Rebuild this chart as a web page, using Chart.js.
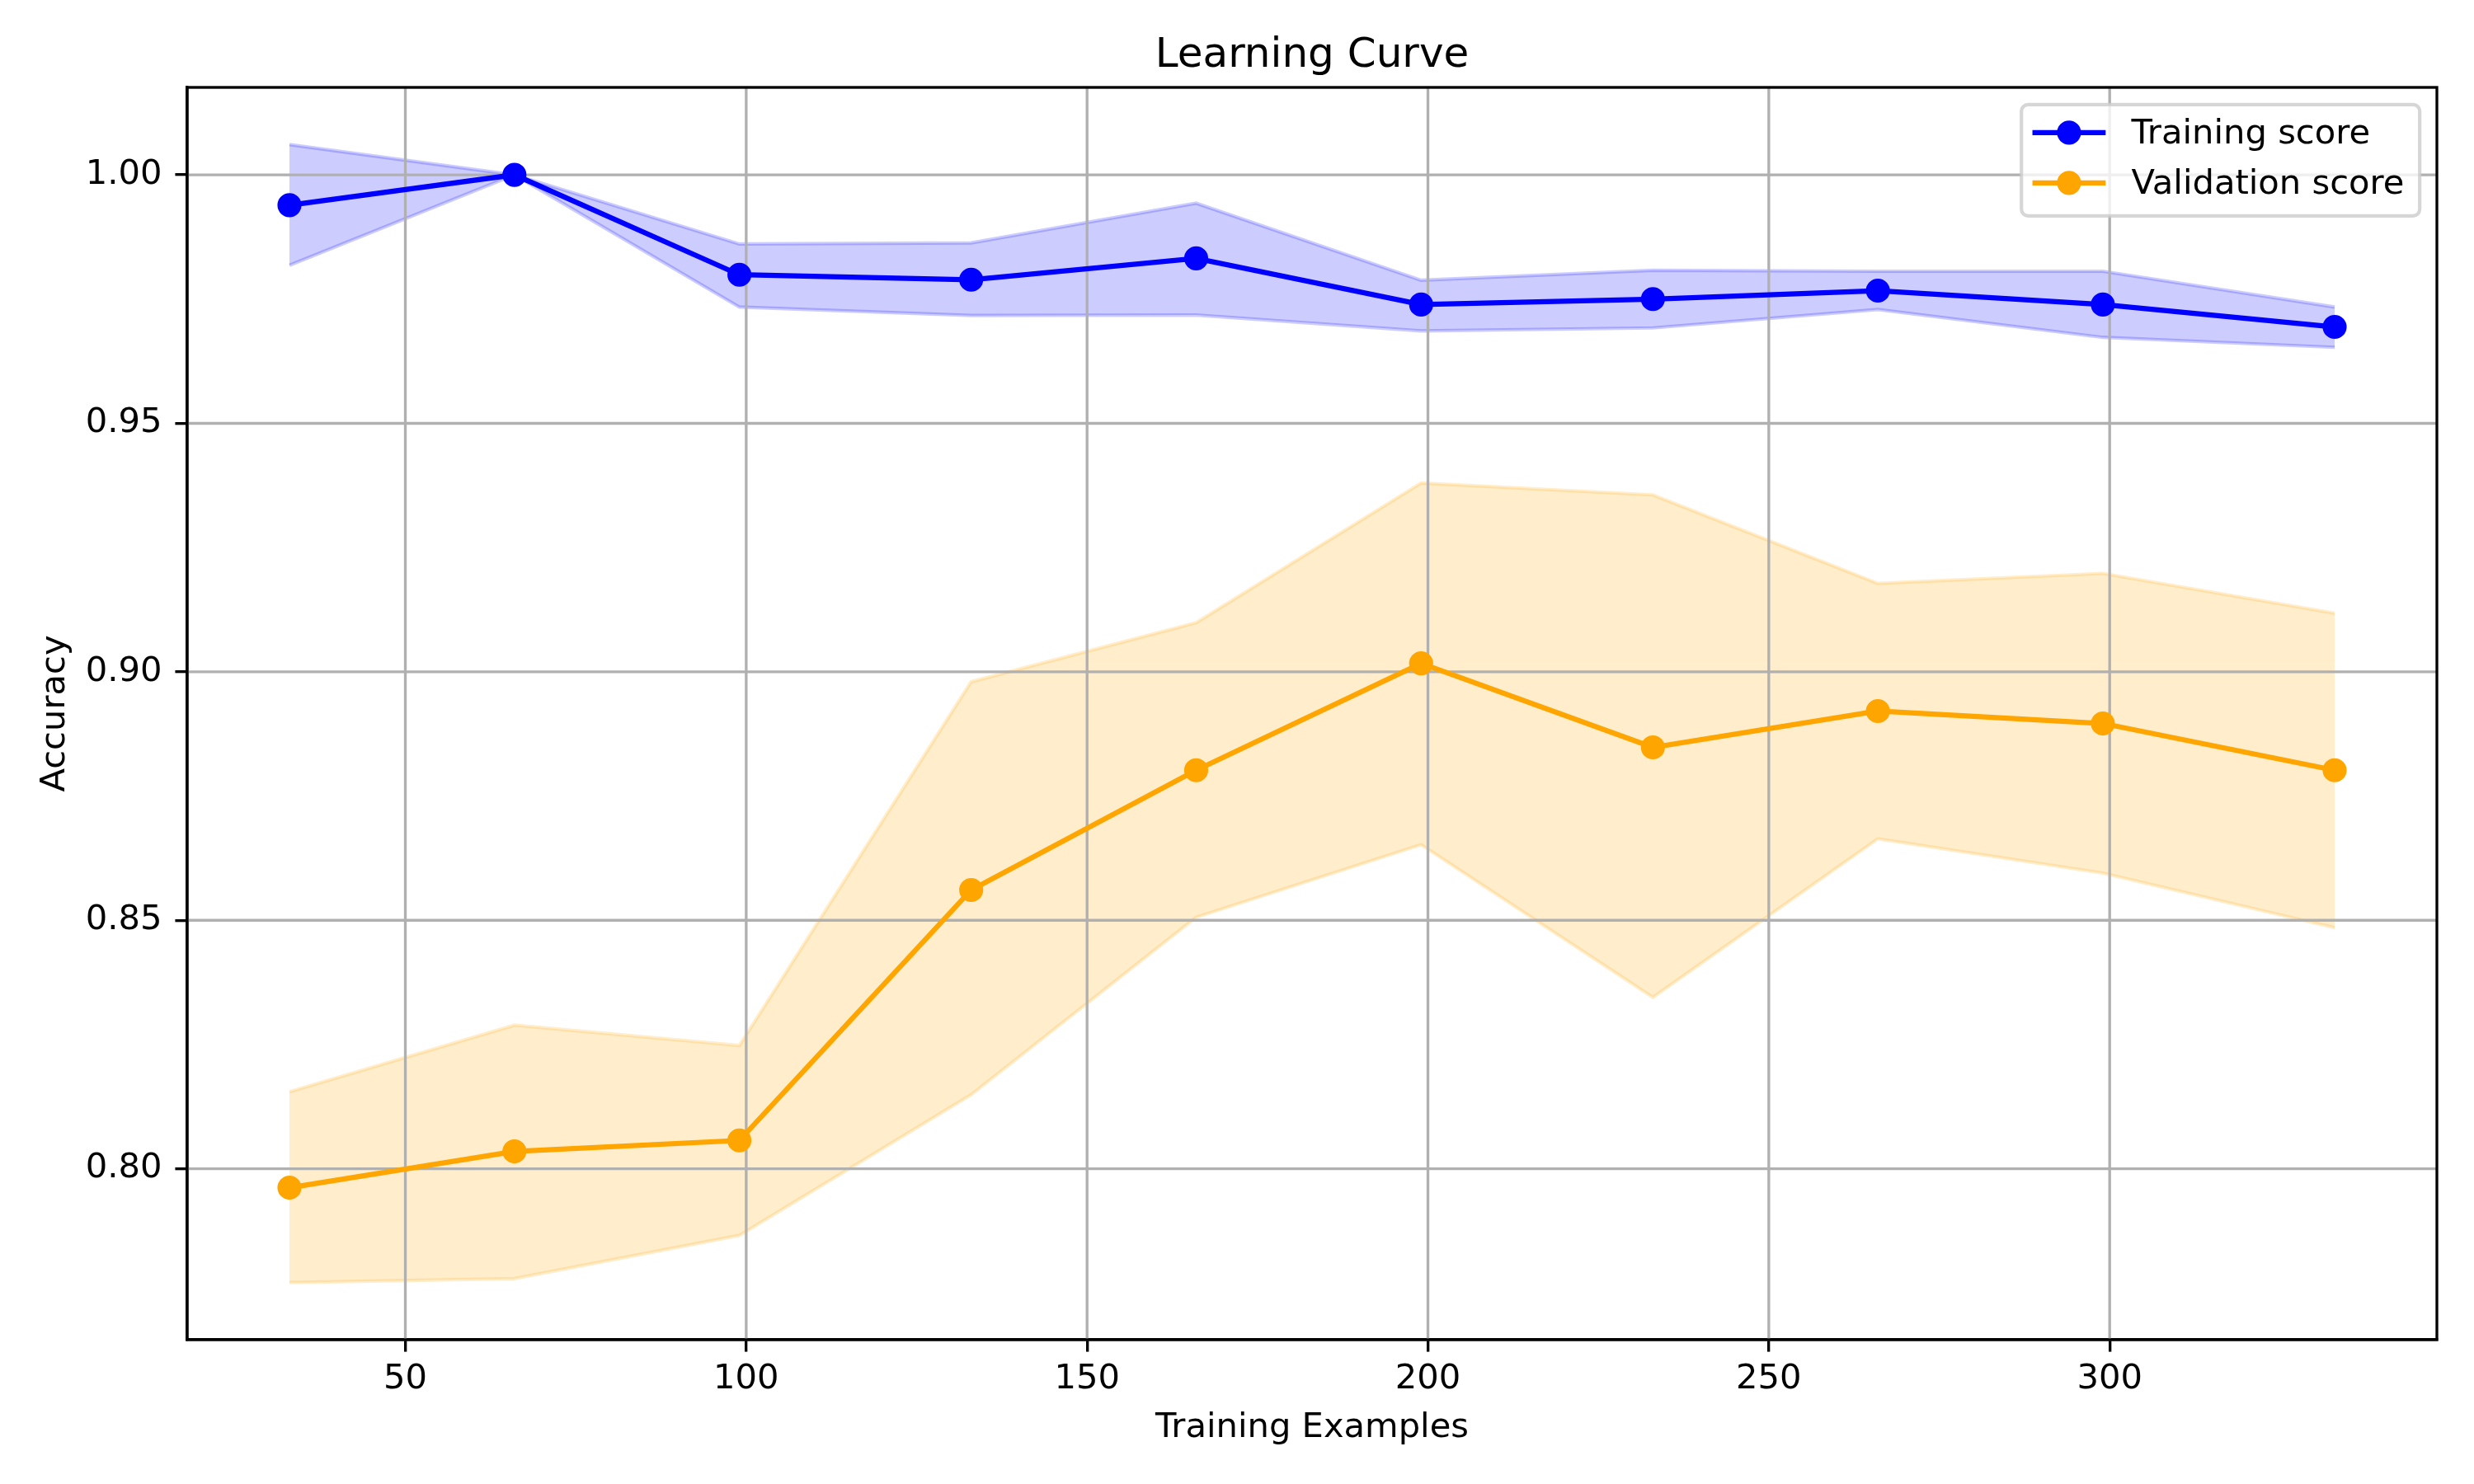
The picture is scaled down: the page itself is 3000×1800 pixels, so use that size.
<!DOCTYPE html>
<html>
<head>
<meta charset="utf-8">
<title>Learning Curve</title>
<script src="https://cdn.jsdelivr.net/npm/chart.js@4.4.1/dist/chart.umd.min.js"></script>
<style>
  html, body { margin: 0; padding: 0; background: #fff; }
  #wrap { width: 3000px; height: 1800px; }
</style>
</head>
<body>
<div id="wrap"><canvas id="lc" width="3000" height="1800"></canvas></div>
<script>
// ── data ──
const trainSizes = [33, 66, 99, 133, 166, 199, 233, 266, 299, 333];
const trainMean  = [0.9939, 1.0000, 0.9799, 0.9789, 0.9832, 0.9739, 0.9750, 0.9767, 0.9739, 0.9694];
const trainUpper = [1.0061, 1.0000, 0.9861, 0.9863, 0.9943, 0.9788, 0.9808, 0.9806, 0.9806, 0.9734];
const trainLower = [0.9818, 1.0000, 0.9734, 0.9717, 0.9718, 0.9686, 0.9692, 0.9729, 0.9673, 0.9653];
const valMean    = [0.7962, 0.8035, 0.8057, 0.8561, 0.8802, 0.9017, 0.8848, 0.8921, 0.8896, 0.8802];
const valUpper   = [0.8155, 0.8289, 0.8248, 0.8980, 0.9099, 0.9380, 0.9356, 0.9178, 0.9198, 0.9118];
const valLower   = [0.7771, 0.7779, 0.7866, 0.8149, 0.8506, 0.8652, 0.8345, 0.8664, 0.8595, 0.8485];
const xTicks = [50, 100, 150, 200, 250, 300];
const yTicks = [0.80, 0.85, 0.90, 0.95, 1.00];
const seriesNames = ['Training score', 'Validation score'];
const chartTitle = 'Learning Curve';
const xTitle = 'Training Examples';
const yTitle = 'Accuracy';

// ── matplotlib-ish sizes at 300 dpi ──
const PT = 300 / 72;
const FONT = "'DejaVu Sans', sans-serif";
const FS = 10 * PT;          // tick / label / legend text
const LW = 1.5 * PT;         // line width
const MR = 3 * PT;           // marker radius
const MEW = 1 * PT;          // marker edge
const GRID = '#b0b0b0';

function pts(ys) { return trainSizes.map((x, i) => ({ x, y: ys[i] })); }

function lineSet(label, ys, color, order) {
  return { label, data: pts(ys), borderColor: color, backgroundColor: color,
    borderWidth: LW, pointRadius: MR, pointHoverRadius: MR, pointBorderWidth: MEW,
    pointBorderColor: color, pointBackgroundColor: color, fill: false, order };
}
function bandSet(ys, rgba, fill, order) {
  return { label: '', data: pts(ys), borderColor: rgba, backgroundColor: rgba,
    borderWidth: PT, pointRadius: 0, pointHoverRadius: 0, fill, order };
}

// grid drawn above the bands but below the lines, like matplotlib
const gridPlugin = {
  id: 'gridBetween',
  beforeDatasetDraw(chart, args) {
    if (args.index !== 1) return;
    const { ctx, chartArea: a, scales: { x, y } } = chart;
    ctx.save();
    ctx.strokeStyle = GRID;
    ctx.lineWidth = 0.8 * PT;
    ctx.beginPath();
    xTicks.forEach(v => { const px = x.getPixelForValue(v); ctx.moveTo(px, a.top); ctx.lineTo(px, a.bottom); });
    yTicks.forEach(v => { const py = y.getPixelForValue(v); ctx.moveTo(a.left, py); ctx.lineTo(a.right, py); });
    ctx.stroke();
    ctx.restore();
  }
};

const framePlugin = {
  id: 'frame',
  afterDatasetsDraw(chart) {
    const { ctx, chartArea: a } = chart;
    ctx.save();
    ctx.strokeStyle = '#000';
    ctx.lineWidth = 0.8 * PT;
    ctx.strokeRect(a.left, a.top, a.right - a.left, a.bottom - a.top);
    ctx.restore();
  }
};

const textPlugin = {
  id: 'texts',
  afterDraw(chart) {
    const { ctx, chartArea: a } = chart;
    const cx = (a.left + a.right) / 2, cy = (a.top + a.bottom) / 2;
    ctx.save();
    ctx.fillStyle = '#000';
    ctx.textAlign = 'center';
    ctx.textBaseline = 'alphabetic';
    ctx.font = `${12 * PT}px ${FONT}`;
    ctx.fillText(chartTitle, cx, a.top - 25);
    ctx.font = `${FS}px ${FONT}`;
    ctx.fillText(xTitle, cx, a.bottom + 118);
    ctx.translate(a.left - 149, cy);
    ctx.rotate(-Math.PI / 2);
    ctx.fillText(yTitle, 0, 0);
    ctx.restore();
  }
};

const legendPlugin = {
  id: 'mplLegend',
  afterDraw(chart) {
    const { ctx, chartArea: a } = chart;
    const sets = chart.data.datasets.slice(0, 2);
    ctx.save();
    ctx.font = `${FS}px ${FONT}`;
    const tw = Math.max(...sets.map(d => ctx.measureText(d.label).width));
    const padL = 0.32 * FS, hl = 2.13 * FS, gap = 0.75 * FS, padR = 0.45 * FS;
    const w = padL + hl + gap + tw + padR;
    const h = 135;
    const right = a.right - 0.5 * FS, top = a.top + 0.5 * FS;
    const left = right - w;
    ctx.beginPath();
    ctx.roundRect(left, top, w, h, 8);
    ctx.fillStyle = 'rgba(255,255,255,0.8)';
    ctx.fill();
    ctx.lineWidth = PT;
    ctx.strokeStyle = 'rgba(204,204,204,0.8)';
    ctx.stroke();
    sets.forEach((d, i) => {
      const y = top + 34 + i * 61;
      const x0 = left + padL, x1 = x0 + hl;
      ctx.strokeStyle = d.borderColor;
      ctx.lineWidth = LW;
      ctx.beginPath(); ctx.moveTo(x0, y); ctx.lineTo(x1, y); ctx.stroke();
      ctx.beginPath(); ctx.arc((x0 + x1) / 2, y, MR, 0, Math.PI * 2);
      ctx.fillStyle = d.borderColor; ctx.fill();
      ctx.lineWidth = MEW; ctx.stroke();
      ctx.fillStyle = '#000';
      ctx.textAlign = 'left';
      ctx.textBaseline = 'middle';
      ctx.fillText(d.label, x1 + gap, y + 2);
    });
    ctx.restore();
  }
};

const axisCommon = {
  type: 'linear',
  grid: { drawOnChartArea: false, drawTicks: true, tickLength: 3.5 * PT, tickColor: '#000', tickWidth: 0.8 * PT, lineWidth: 0.8 * PT },
  border: { display: true, color: '#000', width: 0.8 * PT },
  title: { display: false }
};

new Chart(document.getElementById('lc').getContext('2d'), {
  type: 'line',
  data: {
    datasets: [
      lineSet(seriesNames[0], trainMean, 'blue', 0),
      lineSet(seriesNames[1], valMean, 'orange', 1),
      bandSet(trainUpper, 'rgba(0,0,255,0.2)', '+1', 2),
      bandSet(trainLower, 'rgba(0,0,255,0.2)', false, 3),
      bandSet(valUpper, 'rgba(255,165,0,0.2)', '+1', 4),
      bandSet(valLower, 'rgba(255,165,0,0.2)', false, 5)
    ]
  },
  options: {
    responsive: false,
    animation: false,
    devicePixelRatio: 1,
    layout: { padding: { top: 106, right: 45, left: 0, bottom: 0 } },
    elements: { line: { tension: 0 } },
    plugins: { legend: { display: false }, title: { display: false }, tooltip: { enabled: false } },
    events: [],
    scales: {
      x: {
        ...axisCommon,
        min: 18, max: 348,
        afterBuildTicks: s => { s.ticks = xTicks.map(v => ({ value: v })); },
        afterFit: s => { s.height = 175; },
        ticks: { color: '#000', font: { family: FONT, size: FS }, padding: 9, maxRotation: 0, autoSkip: false, callback: v => String(v) }
      },
      y: {
        ...axisCommon,
        min: 0.7656, max: 1.0176,
        afterBuildTicks: s => { s.ticks = yTicks.map(v => ({ value: v })); },
        afterFit: s => { s.width = 227; },
        ticks: { color: '#000', font: { family: FONT, size: FS }, padding: 16, callback: v => v.toFixed(2) }
      }
    }
  },
  plugins: [gridPlugin, framePlugin, textPlugin, legendPlugin]
});
</script>
</body>
</html>
